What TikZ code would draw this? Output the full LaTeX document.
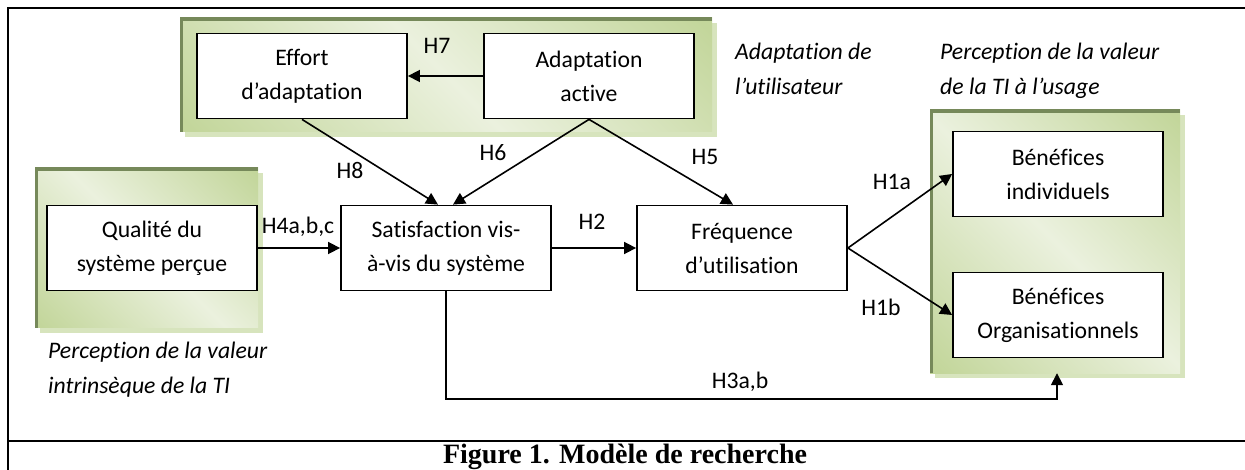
\documentclass[tikz,border=0pt]{standalone}
\usepackage{fontspec}
\setmainfont{Carlito}[Ligatures={NoCommon,NoContextual,NoRequired}]
\newfontfamily\capfont{Liberation Serif}
\usetikzlibrary{arrows.meta,shadows}

\definecolor{glight}{HTML}{EBF1DE}
\definecolor{gdark}{HTML}{C3D69B}
\definecolor{gedge}{HTML}{76895A}
\definecolor{gshadow}{HTML}{D7E4BD}

% diagonal band: light along one diagonal, green towards the other corners
\pgfdeclareverticalshading{greenband}{100bp}{%
  color(0bp)=(gdark); color(16bp)=(gdark); color(50bp)=(glight);
  color(84bp)=(gdark); color(100bp)=(gdark)}

\tikzset{
  box/.style={draw, line width=1.8pt, fill=white, minimum width=210pt,
    minimum height=85pt, inner sep=0pt, align=center,
    font=\fontsize{23.7}{34}\selectfont},
  grp/.style={shade, shading=greenband, shading angle=-45, inner sep=0pt,
    drop shadow={shadow xshift=5pt, shadow yshift=-5pt, fill=gshadow, opacity=1},
    path picture={\draw[gedge, line width=6pt]
      (path picture bounding box.south west) --
      (path picture bounding box.north west) --
      (path picture bounding box.north east);}},
  hyp/.style={font=\fontsize{23.7}{28}\selectfont, inner sep=0pt},
  grplabel/.style={font=\fontsize{23.7}{35}\selectfont\itshape, align=left,
    inner sep=0pt, anchor=north west},
  link/.style={line width=1.6pt, -{Triangle[length=12pt, width=12pt]}},
  frame/.style={line width=2.6pt}
}

\begin{document}
\begin{tikzpicture}[x=1pt, y=-1pt]
\useasboundingbox (0,0) rectangle (1245,470);

% outer frame and caption cell
\draw[frame] (1245,8) -- (8,8) -- (8,470);
\draw[frame] (8,441) -- (1245,441);
\node[font=\capfont\bfseries\fontsize{28}{32}\selectfont, anchor=base]
  (caption) at (625,463) {Figure 1. Modèle de recherche};

% shaded groups
\node[grp, minimum width=532pt, minimum height=114pt] (gtop) at (446,75) {};
\node[grp, minimum width=223pt, minimum height=160pt] (gleft) at (146.5,248) {};
\node[grp, minimum width=250pt, minimum height=263pt] (gright) at (1055,241.5) {};

% constructs
\node[box] (eff) at (302,76) {Effort\\d’adaptation};
\node[box] (ada) at (589,76) {Adaptation\\active};
\node[box] (qual) at (152,248) {Qualité du\\système perçue};
\node[box] (sat) at (446,248) {Satisfaction vis-\\à-vis du système};
\node[box] (freq) at (742,248) {Fréquence\\d’utilisation};
\node[box] (bi) at (1058,174) {Bénéfices\\individuels};
\node[box] (bo) at (1058,315) {Bénéfices\\Organisationnels};

% group captions
\node[grplabel] (lada) at (735,43) {Adaptation de\\l’utilisateur};
\node[grplabel] (lval) at (940,43) {Perception de la valeur\\de la TI à l’usage};
\node[grplabel] (lint) at (48,342) {Perception de la valeur\\intrinsèque de la TI};

% hypotheses
\draw[link] (ada.west) -- (eff.east);
\draw[link] (eff.south) -- ([xshift=-8pt]sat.north);
\draw[link] (ada.south) -- ([xshift=7pt]sat.north);
\draw[link] (ada.south) -- ([xshift=-9pt]freq.north);
\draw[link] (qual.east) -- (sat.west);
\draw[link] (sat.east) -- (freq.west);
\draw[link] (freq.east) -- (bi.west);
\draw[link] (freq.east) -- (bo.west);
\coordinate (turn) at (1057,399);
\draw[link] (sat.south) |- (turn) -- (turn |- gright.south);

\node[hyp] (h7) at (437,46) {H7};
\node[hyp] (h8) at (350,170) {H8};
\node[hyp] (h6) at (493,153) {H6};
\node[hyp] (h5) at (705,157) {H5};
\node[hyp] (h4) at (298,227) {H4a,b,c};
\node[hyp] (h2) at (592,222) {H2};
\node[hyp] (h1a) at (892,182) {H1a};
\node[hyp] (h1b) at (881,307) {H1b};
\node[hyp] (h3) at (740,382) {H3a,b};
\end{tikzpicture}
\end{document}
